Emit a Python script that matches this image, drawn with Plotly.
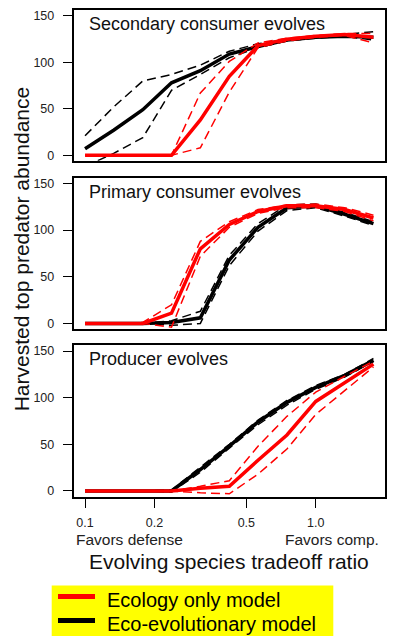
import plotly.graph_objects as go

W, H = 394, 636

x_ratio = [0.1, 0.133, 0.178, 0.237, 0.316, 0.422, 0.562, 0.750, 1.0, 1.334, 1.778]

# Panel 1: Secondary consumer evolves
sec_eco_mid = [0, 0, 0, 0, 38, 85, 118, 125, 128, 130, 127]
sec_eco_hi = [0, 0, 0, 0, 67, 101, 121, 126, 129, 131, 131]
sec_eco_lo = [0, 0, 0, 0, 8, 68, 116, 123, 127, 129, 121]
sec_evo_mid = [7, 27, 49, 78, 91, 109, 117, 124, 127, 128, 127]
sec_evo_hi = [21, 52, 80, 87, 97, 112, 120, 125, 128, 130, 133]
sec_evo_lo = [-12, 2, 19, 70, 87, 105, 116, 123, 126, 128, 124]

# Panel 2: Primary consumer evolves
pri_eco_mid = [0, 0, 0, 11, 80, 106, 120, 126, 126, 122, 113]
pri_eco_hi = [0, 0, 1, 20, 88, 109, 122, 127, 128, 124, 116]
pri_eco_lo = [0, 0, 0, -4, 72, 103, 118, 124, 124, 120, 110]
pri_evo_mid = [0, 0, 0, 1, 6, 68, 103, 124, 126, 117, 107]
pri_evo_hi = [0, 0, 0, 3, 13, 73, 107, 127, 128, 119, 109]
pri_evo_lo = [0, 0, 0, -2, 0, 62, 99, 121, 124, 115, 105]

# Panel 3: Producer evolves
pro_eco_mid = [0, 0, 0, 0, 3, 5, 33, 60, 96, 116, 136]
pro_eco_hi = [0, 0, 0, 0, 5, 11, 48, 80, 106, 123, 139]
pro_eco_lo = [0, 0, 0, 0, -2, -3, 18, 45, 82, 108, 133]
pro_evo_mid = [0, 0, 0, 0, 23, 48, 74, 95, 111, 124, 140]
pro_evo_hi = [0, 0, 0, 1, 25, 50, 76, 97, 113, 125, 142]
pro_evo_lo = [0, 0, 0, -1, 20, 46, 71, 92, 109, 122, 139]

panel_titles = ["Secondary consumer evolves", "Primary consumer evolves", "Producer evolves"]
x_tickvals = [0.1, 0.2, 0.5, 1.0, 2.0]
x_ticktext = ["0.1", "0.2", "0.5", "1.0", "2.0"]
y_tickvals = [0, 50, 100, 150]
legend_labels = ["Ecology only model", "Eco-evolutionary model"]

RED = "#ff0000"
BLACK = "#000000"

panels = [
    (sec_eco_mid, sec_eco_hi, sec_eco_lo, sec_evo_mid, sec_evo_hi, sec_evo_lo),
    (pri_eco_mid, pri_eco_hi, pri_eco_lo, pri_evo_mid, pri_evo_hi, pri_evo_lo),
    (pro_eco_mid, pro_eco_hi, pro_eco_lo, pro_evo_mid, pro_evo_hi, pro_evo_lo),
]

# panel boxes in pixels (top, bottom)
boxes = [(9.4, 160.6), (177.7, 329.6), (346.1, 497.9)]
xdom = [73.5 / W, 385 / W]

fig = go.Figure()
dash = "9px,5px"
for k, (em, eh, el, vm, vh, vl) in enumerate(panels):
    xa = "x" if k == 0 else f"x{k+1}"
    ya = "y" if k == 0 else f"y{k+1}"
    for ys in (vh, vl):
        fig.add_trace(go.Scatter(x=x_ratio, y=ys, mode="lines", xaxis=xa, yaxis=ya,
                                 line=dict(color=BLACK, width=1.5, dash=dash), showlegend=False))
    fig.add_trace(go.Scatter(x=x_ratio, y=vm, mode="lines", xaxis=xa, yaxis=ya,
                             line=dict(color=BLACK, width=3.5), showlegend=False))
    for ys in (eh, el):
        fig.add_trace(go.Scatter(x=x_ratio, y=ys, mode="lines", xaxis=xa, yaxis=ya,
                                 line=dict(color=RED, width=1.5, dash=dash), showlegend=False))
    fig.add_trace(go.Scatter(x=x_ratio, y=em, mode="lines", xaxis=xa, yaxis=ya,
                             line=dict(color=RED, width=3.5), showlegend=False))

axis_font = dict(family="Liberation Sans, Arial, sans-serif", size=12.5, color="#222")
layout = dict(
    width=W, height=H, autosize=False,
    margin=dict(l=0, r=0, t=0, b=0),
    paper_bgcolor="white", plot_bgcolor="white",
    font=dict(family="Liberation Sans, Arial, sans-serif", color="#222"),
    showlegend=False,
)
for k, (top, bot) in enumerate(boxes):
    xs = "xaxis" if k == 0 else f"xaxis{k+1}"
    ysn = "yaxis" if k == 0 else f"yaxis{k+1}"
    ya = "y" if k == 0 else f"y{k+1}"
    xa = "x" if k == 0 else f"x{k+1}"
    last = (k == 2)
    layout[xs] = dict(
        type="log", range=[-1.05, 0.30], domain=xdom, anchor=ya,
        showline=True, mirror=True, linecolor="black", linewidth=1.5,
        showgrid=False, zeroline=False,
        tickvals=x_tickvals, ticktext=x_ticktext,
        ticks="outside" if last else "", ticklen=10, tickwidth=1.2, tickcolor="black",
        showticklabels=last, tickfont=axis_font, ticklabelstandoff=4,
    )
    layout[ysn] = dict(
        range=[-6, 156], domain=[1 - bot / H, 1 - top / H], anchor=xa,
        showline=True, mirror=True, linecolor="black", linewidth=1.5,
        showgrid=False, zeroline=False,
        tickvals=y_tickvals, ticks="outside", ticklen=9, tickwidth=1.2, tickcolor="black",
        tickfont=axis_font, ticklabelstandoff=6,
    )
fig.update_layout(**layout)

ann = []
label_y = [22.7, 191.7, 360.0]
for t, yy in zip(panel_titles, label_y):
    ann.append(dict(text=t, xref="paper", yref="paper", x=87.3 / W, y=1 - yy / H,
                    xanchor="left", yanchor="middle", showarrow=False,
                    font=dict(size=18, color="#111")))
ann.append(dict(text="Harvested top predator abundance", xref="paper", yref="paper",
                x=21.5 / W, y=1 - 249 / H, textangle=-90, xanchor="center", yanchor="middle",
                showarrow=False, font=dict(size=21, color="#111")))
ann.append(dict(text="Favors defense", xref="paper", yref="paper", x=74 / W, y=1 - 541 / H,
                xanchor="left", yanchor="middle", showarrow=False, font=dict(size=15.5, color="#222")))
ann.append(dict(text="Favors comp.", xref="paper", yref="paper", x=283 / W, y=1 - 541 / H,
                xanchor="left", yanchor="middle", showarrow=False, font=dict(size=15.5, color="#222")))
ann.append(dict(text="Evolving species tradeoff ratio", xref="paper", yref="paper",
                x=229 / W, y=1 - 563.5 / H, xanchor="center", yanchor="middle",
                showarrow=False, font=dict(size=21, color="#111")))
ann.append(dict(text=legend_labels[0], xref="paper", yref="paper", x=105 / W, y=1 - 601.5 / H,
                xanchor="left", yanchor="middle", showarrow=False, font=dict(size=20, color="black")))
ann.append(dict(text=legend_labels[1], xref="paper", yref="paper", x=105 / W, y=1 - 626 / H,
                xanchor="left", yanchor="middle", showarrow=False, font=dict(size=20, color="black")))

shapes = [
    dict(type="rect", xref="paper", yref="paper", x0=51.7 / W, x1=333.3 / W,
         y0=-0.01, y1=1 - 587.3 / H, fillcolor="#ffff00", line=dict(width=0), layer="below"),
    dict(type="line", xref="paper", yref="paper", x0=58 / W, x1=95 / W,
         y0=1 - 598.3 / H, y1=1 - 598.3 / H, line=dict(color=RED, width=5)),
    dict(type="line", xref="paper", yref="paper", x0=58 / W, x1=95 / W,
         y0=1 - 622.5 / H, y1=1 - 622.5 / H, line=dict(color=BLACK, width=5)),
]
fig.update_layout(annotations=ann, shapes=shapes)

fig.write_html("out.html")
